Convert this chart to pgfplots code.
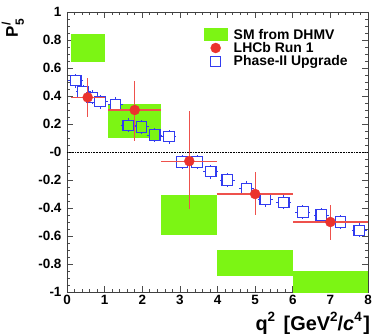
\documentclass[border=0pt]{standalone}
\usepackage{pgfplots}
\pgfplotsset{compat=1.18}
\usepackage{pgfplotstable}
\usepackage{fontspec}
\setmainfont{Liberation Sans}
\definecolor{smgreen}{RGB}{124,245,20}
\definecolor{lhcbred}{RGB}{235,50,45}
\definecolor{upblue}{RGB}{50,60,240}

\pgfplotsset{
  mylegmark/.style={legend image code/.code={\draw[mark repeat=2,mark phase=2,##1] plot coordinates {(0cm,0cm) (0.4cm,0cm) (0.8cm,0cm)};}},
  mylegbox/.style={legend image code/.code={\fill[smgreen] (0cm,-0.2cm) rectangle (0.8cm,0.24cm);}},
}
\newcommand{\sups}[1]{\raisebox{0.85ex}{\fontsize{13.5}{13.5}\selectfont #1}}

\pgfplotstableread{
x y xm xp ym yp
0.55 0.39 0.45 0.45 0.14 0.14
1.80 0.30 0.70 0.70 0.22 0.21
3.25 -0.065 0.75 0.75 0.345 0.355
5.00 -0.30 1.00 1.00 0.15 0.16
7.00 -0.50 1.00 1.00 0.13 0.12
}\lhcb

\pgfplotstableread{
x y ex ey
0.23 0.51 0.2 0.05
0.43 0.43 0.2 0.05
0.67 0.39 0.2 0.05
0.88 0.36 0.2 0.05
1.29 0.34 0.2 0.05
1.63 0.19 0.2 0.05
1.98 0.18 0.2 0.05
2.33 0.12 0.2 0.05
2.71 0.11 0.2 0.05
3.06 -0.07 0.2 0.05
3.46 -0.07 0.2 0.05
3.82 -0.14 0.2 0.05
4.26 -0.20 0.2 0.05
4.77 -0.26 0.2 0.05
5.27 -0.34 0.2 0.05
5.76 -0.36 0.2 0.05
6.27 -0.43 0.2 0.05
6.76 -0.45 0.2 0.05
7.27 -0.50 0.2 0.05
7.77 -0.56 0.2 0.05
}\upgrade

\pgfplotstableread{
x y
1.63 0.19
1.98 0.18
2.33 0.12
}\upgradeingreen

\begin{document}
\begin{tikzpicture}
\useasboundingbox (-67bp,-42bp) rectangle (306bp,292bp);
\begin{axis}[
  scale only axis, width=301bp, height=280bp,
  at={(0,0)}, anchor=south west,
  xmin=0, xmax=8, ymin=-1, ymax=1,
  clip mode=individual,
  xtick={0,1,2,3,4,5,6,7,8},
  xticklabels={0,1,2,3,4,5,6,7,8},
  ytick={-1,-0.8,-0.6,-0.4,-0.2,0,0.2,0.4,0.6,0.8,1},
  yticklabels={-1,-0.8,-0.6,-0.4,-0.2,-0,0.2,0.4,0.6,0.8,1},
  minor x tick num=4, minor y tick num=3,
  tick align=inside, xtick pos=both, ytick pos=both,
  major tick length=6bp, minor tick length=3bp,
  tick style={black!70, line width=0.6pt},
  axis line style={black!75, line width=0.9pt},
  ticklabel style={font=\fontsize{13.5}{15}\selectfont\bfseries},
  yticklabel style={xshift=-2bp},
  legend cell align=left,
  legend style={draw=none, fill=none, at={(axis description cs:0.455,0.945)}, anchor=north west,
    font=\fontsize{14}{15}\selectfont\bfseries, row sep=-1.5bp, inner sep=0pt,
    nodes={inner sep=1.5bp}, /tikz/column 1/.style={column sep=5bp}},
]
\addlegendimage{mylegbox}
\addlegendentry{SM from DHMV}
\addlegendimage{only marks, mark=*, mark size=5bp, color=lhcbred, mylegmark}
\addlegendentry{LHCb Run 1}
\addlegendimage{only marks, mark=square, mark size=5bp, color=upblue, line width=1.1pt, mylegmark}
\addlegendentry{Phase-II Upgrade}

% SM boxes
\addplot[fill=smgreen, draw=none, forget plot] coordinates {(0.1,0.64) (1.0,0.64) (1.0,0.84) (0.1,0.84)} -- cycle;
\addplot[fill=smgreen, draw=none, forget plot] coordinates {(1.1,0.10) (2.5,0.10) (2.5,0.34) (1.1,0.34)} -- cycle;
\addplot[fill=smgreen, draw=none, forget plot] coordinates {(2.5,-0.59) (4.0,-0.59) (4.0,-0.31) (2.5,-0.31)} -- cycle;
\addplot[fill=smgreen, draw=none, forget plot] coordinates {(4.0,-0.886) (6.0,-0.886) (6.0,-0.70) (4.0,-0.70)} -- cycle;
\addplot[fill=smgreen, draw=none, forget plot] coordinates {(6.0,-1.05) (8.0,-1.05) (8.0,-0.85) (6.0,-0.85)} -- cycle;

% zero line
\addplot[black, densely dotted, line width=0.6pt, forget plot] coordinates {(0,0) (8,0)};

% Upgrade error bars
\addplot[only marks, mark=none, forget plot,
  error bars/.cd, x dir=both, x explicit, y dir=both, y explicit,
  error bar style={upblue, line width=0.9pt}, error mark=none]
  table[x=x, y=y, x error=ex, y error=ey] {\upgrade};
\addplot[only marks, mark=square*, mark size=5.3bp, forget plot,
  mark options={draw=upblue, fill=white, line width=1.1pt}]
  table[x=x, y=y] {\upgrade};
\addplot[only marks, mark=square*, mark size=5.3bp, forget plot,
  mark options={draw=upblue, fill=smgreen, line width=1.1pt}]
  table[x=x, y=y] {\upgradeingreen};

% LHCb Run 1
\addplot[only marks, mark=*, mark size=5bp, color=lhcbred, forget plot,
  error bars/.cd, x dir=both, x explicit, y dir=both, y explicit,
  error bar style={draw=lhcbred!85!white, line width=1.1bp}, error mark=none]
  table[x=x, y=y, x error plus=xp, x error minus=xm, y error plus=yp, y error minus=ym] {\lhcb};

\node[rotate=90, anchor=base east, inner sep=0pt, font=\fontsize{17}{17}\selectfont\bfseries]
  at (axis description cs:-0.163,0.975)
  {P\makebox[0pt][l]{\raisebox{0.85ex}{\fontsize{12}{12}\selectfont /}}\raisebox{-0.65ex}{\fontsize{12}{12}\selectfont 5}};
\node[anchor=base east, inner sep=0pt, font=\fontsize{20}{20}\selectfont\bfseries]
  at (axis description cs:1.007,-0.136)
  {q\sups{2}\hspace{3bp} [GeV\sups{2}/\textit{c}\sups{4}\hspace{1.5bp}]};
\end{axis}
\end{tikzpicture}
\end{document}
